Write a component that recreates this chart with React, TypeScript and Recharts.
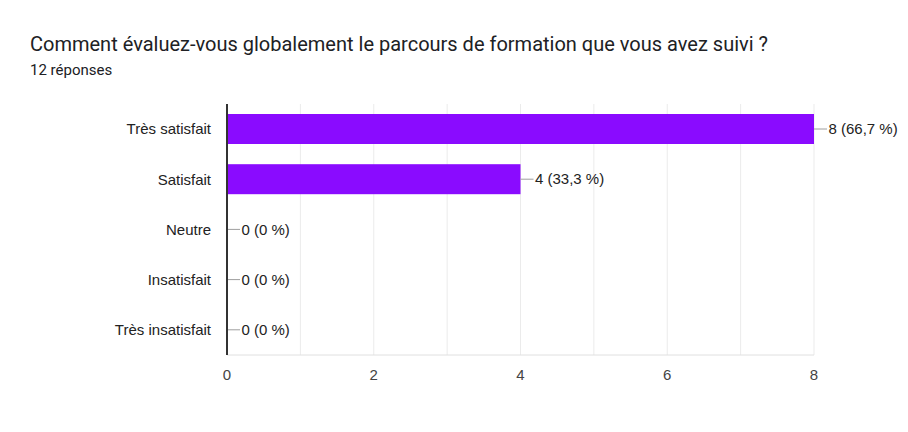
import { BarChart, Bar, XAxis, YAxis, CartesianGrid } from "recharts";

const categories = ["Très satisfait", "Satisfait", "Neutre", "Insatisfait", "Très insatisfait"];
const counts = [8, 4, 0, 0, 0];
const xTicks = [0, 1, 2, 3, 4, 5, 6, 7, 8];
const total = 12;

const data = categories.map((name, i) => ({ name, value: counts[i] }));

const chartFont = "Arial, 'Liberation Sans', sans-serif";

function fmtPct(v: number) {
  const p = (v / total) * 100;
  const s = Number.isInteger(p) ? String(p) : p.toFixed(1).replace(".", ",");
  return `${v} (${s} %)`;
}

// bar + leader line + label, so zero values still get their label
function BarWithLabel(props: any) {
  const { x, y, width, height, value, fill } = props;
  const w = Math.max(0, width || 0);
  const endX = x + w;
  const cy = y + height / 2;
  const v = Array.isArray(value) ? value[1] : value;
  return (
    <g>
      {w > 0 && <rect x={x} y={y} width={w} height={height} fill={fill} />}
      <line x1={endX} y1={cy} x2={endX + 13} y2={cy} stroke="#9e9e9e" strokeWidth={1} />
      <text x={endX + 14.5} y={cy} dy="0.35em" fontSize={15} fill="#222" fontFamily={chartFont}>
        {fmtPct(v)}
      </text>
    </g>
  );
}

export default function App() {
  return (
    <div
      style={{
        position: "absolute",
        top: 0,
        left: 0,
        width: 908,
        height: 432,
        background: "#fff",
        fontFamily: "Roboto, sans-serif",
      }}
    >
      <div style={{ position: "absolute", left: 30, top: 32, fontSize: 20, color: "#202124" }}>
        Comment évaluez-vous globalement le parcours de formation que vous avez suivi ?
      </div>
      <div style={{ position: "absolute", left: 30, top: 61, fontSize: 15, color: "#202124" }}>
        12 réponses
      </div>
      <BarChart
        width={908}
        height={432}
        layout="vertical"
        data={data}
        margin={{ top: 104, right: 94, left: 0, bottom: 47 }}
        barCategoryGap={10}
      >
        <CartesianGrid horizontal={false} stroke="#ebebeb" />
        <XAxis
          type="number"
          domain={[0, 8]}
          ticks={xTicks}
          tickFormatter={(v: number) => (v % 2 === 0 ? String(v) : "")}
          tickLine={false}
          axisLine={{ stroke: "#e0e0e0" }}
          height={30}
          tick={{ fontSize: 15, fill: "#444", fontFamily: chartFont }}
          tickMargin={8}
          interval={0}
        />
        <YAxis
          type="category"
          dataKey="name"
          width={227}
          tickLine={false}
          axisLine={{ stroke: "#333", strokeWidth: 2 }}
          tick={{ fontSize: 15, fill: "#222", fontFamily: chartFont }}
          tickMargin={10}
        />
        <Bar
          dataKey="value"
          fill="#8a0bff"
          barSize={30}
          isAnimationActive={false}
          shape={BarWithLabel}
        />
      </BarChart>
    </div>
  );
}
